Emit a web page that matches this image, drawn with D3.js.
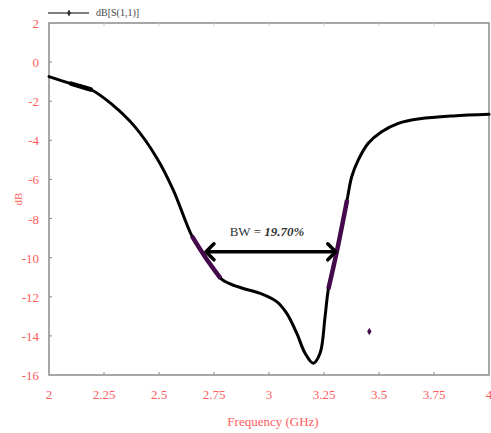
<!DOCTYPE html>
<html>
<head>
<meta charset="utf-8">
<script src="https://cdn.jsdelivr.net/npm/d3@7"></script>
<style>
  body { margin: 0; background: #fff; }
  text { font-family: "Liberation Serif", serif; }
</style>
</head>
<body>
<div id="hook"></div>
<script>
var freq = [2.0, 2.1, 2.19, 2.285, 2.39, 2.49, 2.565, 2.65, 2.709, 2.78, 2.815, 2.876, 2.966, 3.035, 3.08, 3.126, 3.164, 3.201, 3.232, 3.255, 3.27, 3.308, 3.355, 3.376, 3.406, 3.451, 3.512, 3.588, 3.686, 3.838, 4.0];
var s11 = [-0.74, -1.1, -1.40, -2.15, -3.3, -4.9, -6.54, -8.9, -9.95, -11.06, -11.3, -11.55, -11.85, -12.25, -12.84, -13.86, -14.89, -15.4, -14.89, -13.0, -11.6, -9.7, -7.05, -5.86, -5.0, -4.15, -3.56, -3.13, -2.9, -2.75, -2.67];
var xTicks = [2, 2.25, 2.5, 2.75, 3, 3.25, 3.5, 3.75, 4];
var yTicks = [2, 0, -2, -4, -6, -8, -10, -12, -14, -16];
var thickStart = [2.1, 2.19];
var bandLeft = [2.65, 2.78];
var bandRight = [3.27, 3.355];
var arrowEnds = [2.709, 3.308];
var arrowLevel = -9.7;
var strayPoint = [3.456, -13.78];

(function () {
    var w = 491, h = 433;
    var pLeft = 49, pRight = 489, pTop = 23, pBottom = 375;
    var red = "#ff5c5c";
    var purple = "#450a4c";

    var svg = d3.select("#hook").append("svg")
        .attr("width", w)
        .attr("height", h);

    var x = d3.scaleLinear().domain([2, 4]).range([pLeft, pRight]);
    var y = d3.scaleLinear().domain([-16, 2]).range([pBottom, pTop]);

    var data = freq.map(function (f, i) { return { f: f, v: s11[i] }; });

    // frame
    svg.append("rect")
        .attr("x", pLeft).attr("y", pTop)
        .attr("width", pRight - pLeft).attr("height", pBottom - pTop)
        .attr("fill", "none")
        .attr("stroke", "#8a8a8a")
        .attr("stroke-width", 1.5);

    // inner ticks
    svg.selectAll(".xt")
        .data(xTicks.slice(1, -1))
        .enter().append("line")
        .attr("x1", function (d) { return x(d); })
        .attr("x2", function (d) { return x(d); })
        .attr("y1", pBottom).attr("y2", pBottom - 3)
        .attr("stroke", "#8a8a8a");
    svg.selectAll(".xtt")
        .data(xTicks.slice(1, -1))
        .enter().append("line")
        .attr("x1", function (d) { return x(d); })
        .attr("x2", function (d) { return x(d); })
        .attr("y1", pTop).attr("y2", pTop + 3)
        .attr("stroke", "#cccccc");
    svg.selectAll(".yt")
        .data(yTicks.slice(1, -1))
        .enter().append("line")
        .attr("x1", pLeft).attr("x2", pLeft + 3)
        .attr("y1", function (d) { return y(d); })
        .attr("y2", function (d) { return y(d); })
        .attr("stroke", "#8a8a8a");

    // tick labels
    svg.selectAll(".xl")
        .data(xTicks)
        .enter().append("text")
        .attr("x", function (d) { return x(d); })
        .attr("y", 399)
        .attr("text-anchor", "middle")
        .attr("fill", red)
        .attr("font-size", 13)
        .text(function (d) { return d; });

    svg.selectAll(".yl")
        .data(yTicks)
        .enter().append("text")
        .attr("x", 39)
        .attr("y", function (d) { return y(d) + 5; })
        .attr("text-anchor", "end")
        .attr("fill", red)
        .attr("font-size", 13)
        .text(function (d) { return d; });

    svg.append("text")
        .attr("x", 273).attr("y", 426)
        .attr("text-anchor", "middle")
        .attr("fill", red)
        .attr("font-size", 13)
        .text("Frequency (GHz)");

    svg.append("text")
        .attr("transform", "translate(22,199) rotate(-90)")
        .attr("text-anchor", "middle")
        .attr("fill", red)
        .attr("font-size", 11)
        .text("dB");

    // legend
    svg.append("line")
        .attr("x1", 48).attr("x2", 89)
        .attr("y1", 13).attr("y2", 13)
        .attr("stroke", "#555").attr("stroke-width", 1.5);
    svg.append("path")
        .attr("d", d3.symbol().type(d3.symbolDiamond).size(14))
        .attr("transform", "translate(69,13)")
        .attr("fill", "#333");
    svg.append("text")
        .attr("x", 96).attr("y", 16)
        .attr("fill", "#444")
        .attr("font-size", 10)
        .text("dB[S(1,1)]");

    // curve
    var line = d3.line()
        .x(function (d) { return x(d.f); })
        .y(function (d) { return y(d.v); })
        .curve(d3.curveCatmullRom.alpha(0.5));

    svg.append("path")
        .datum(data)
        .attr("d", line)
        .attr("fill", "none")
        .attr("stroke", "#000")
        .attr("stroke-width", 3)
        .attr("stroke-linecap", "round");

    svg.append("path")
        .datum(data.filter(function (d) { return d.f >= thickStart[0] && d.f <= thickStart[1]; }))
        .attr("d", line)
        .attr("fill", "none")
        .attr("stroke", "#000")
        .attr("stroke-width", 4.5)
        .attr("stroke-linecap", "round");

    [bandLeft, bandRight].forEach(function (b) {
        svg.append("path")
            .datum(data.filter(function (d) { return d.f >= b[0] && d.f <= b[1]; }))
            .attr("d", line)
            .attr("fill", "none")
            .attr("stroke", purple)
            .attr("stroke-width", 4.5);
    });

    // bandwidth arrow
    var ay = y(arrowLevel);
    var ax1 = x(arrowEnds[0]), ax2 = x(arrowEnds[1]);
    svg.append("line")
        .attr("x1", ax1 + 2).attr("x2", ax2 - 2)
        .attr("y1", ay).attr("y2", ay)
        .attr("stroke", "#000").attr("stroke-width", 3.5);
    svg.append("path")
        .attr("d", "M" + (ax1 + 9) + "," + (ay - 8) + "L" + (ax1 + 1) + "," + ay + "L" + (ax1 + 9) + "," + (ay + 8))
        .attr("fill", "none").attr("stroke", "#000").attr("stroke-width", 3.5)
        .attr("stroke-linecap", "round").attr("stroke-linejoin", "round");
    svg.append("path")
        .attr("d", "M" + (ax2 - 9) + "," + (ay - 8) + "L" + (ax2 - 1) + "," + ay + "L" + (ax2 - 9) + "," + (ay + 8))
        .attr("fill", "none").attr("stroke", "#000").attr("stroke-width", 3.5)
        .attr("stroke-linecap", "round").attr("stroke-linejoin", "round");

    var bw = svg.append("text")
        .attr("x", 267).attr("y", 236)
        .attr("text-anchor", "middle")
        .attr("font-size", 13)
        .attr("fill", "#333");
    bw.append("tspan").text("BW = ");
    bw.append("tspan").attr("font-weight", "bold").attr("font-style", "italic").text("19.70%");

    // stray marker
    svg.append("path")
        .attr("d", d3.symbol().type(d3.symbolDiamond).size(16))
        .attr("transform", "translate(" + x(strayPoint[0]) + "," + y(strayPoint[1]) + ")")
        .attr("fill", purple);
})();
</script>
</body>
</html>
